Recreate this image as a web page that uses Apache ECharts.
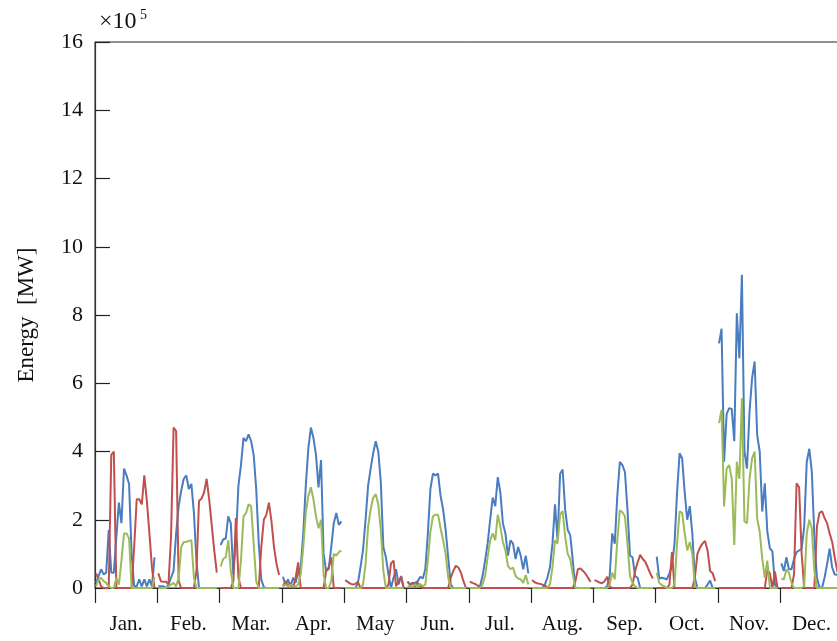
<!DOCTYPE html>
<html>
<head>
<meta charset="utf-8">
<script src="https://cdn.jsdelivr.net/npm/echarts@6/dist/echarts.min.js"></script>
<style>
html,body{margin:0;padding:0;background:#fff;overflow:hidden;width:837px;height:641px;}
#chart{width:846px;height:641px;}
</style>
</head>
<body>
<div id="chart"></div>
<script>
// Month labels
const months = ['Jan.','Feb.','Mar.','Apr.','May','Jun.','Jul.','Aug.','Sep.','Oct.','Nov.','Dec.'];
// y tick labels (x10^5)
const yTicks = [0,2,4,6,8,10,12,14,16];

// 24 hourly values per month (x10^5 MW)
const blueSeries = [
  [0.15,0.35,0.55,0.4,0.45,1.7,0.45,0.45,1.5,2.5,1.9,3.5,3.3,3.05,1.0,0.05,0.05,0.25,0.05,0.25,0.05,0.25,0.05,0.9],
  [0.05,0.05,0.05,0,0.1,0.3,0.5,1.6,2.4,2.85,3.2,3.3,2.9,3.05,2.2,0.8,0,0,0,0,0,0,0,0],
  [1.26,1.42,1.45,2.1,1.9,0.4,1.4,3.0,3.6,4.4,4.3,4.5,4.3,3.9,2.9,1.3,0.25,0.02,0,0,0,0,0,0],
  [0.33,0.1,0.25,0.05,0.3,0.15,0.48,0.6,1.6,3.0,4.1,4.7,4.4,3.9,2.95,3.75,1.0,0.5,0.55,1.2,1.9,2.2,1.85,1.95],
  [0,0,0,0,0,0.15,0.6,1.12,2.0,3.0,3.5,3.95,4.3,4.0,3.1,1.2,0.9,0.4,0,0.3,0.55,0.1,0.35,0],
  [0.19,0.1,0.15,0.15,0.2,0.33,0.28,0.55,1.6,2.9,3.35,3.3,3.35,2.7,2.3,1.7,0.9,0.1,0,0,0,0,0,0],
  [0,0,0,0,0.05,0.35,0.8,1.3,2.0,2.65,2.4,3.25,2.8,1.9,1.6,0.95,1.4,1.3,0.85,1.2,0.95,0.55,0.95,0.43],
  [0,0,0,0,0,0.1,0.3,0.6,1.3,2.45,1.4,3.35,3.47,2.3,1.7,1.55,0.8,0,0,0,0,0,0,0],
  [0,0,0,0,0,0.05,0.35,1.6,1.3,2.7,3.7,3.6,3.4,2.3,0.95,0.9,0.35,0.3,0,0,0,0,0,0],
  [0.92,0.28,0.3,0.28,0.25,0.43,0.65,1.3,2.8,3.95,3.8,2.8,2.0,2.4,1.6,0.3,0,0,0,0,0.1,0.22,0,0],
  [7.17,7.6,3.7,5.1,5.27,5.25,4.3,8.05,6.73,9.18,4.0,3.5,5.17,6.15,6.64,4.49,4.0,2.24,3.07,1.65,1.16,1.07,0.09,0],
  [0.72,0.5,0.9,0.55,0.55,0.85,1.05,1.1,1.15,1.8,3.7,4.08,3.4,1.5,0.3,0.02,0,0.3,0.7,1.15,0.6,0.4,0.38,0.3]
];
const greenSeries = [
  [0.05,0.25,0.3,0.2,0.15,0.05,0,0,0.3,0.1,0.8,1.6,1.6,1.45,0,0,0,0,0,0,0,0,0,0.33],
  [0,0,0,0,0.05,0.1,0.15,0.05,0.3,1.2,1.35,1.35,1.38,1.4,0.3,0,0,0,0,0,0,0,0,0],
  [0.63,0.85,0.9,1.4,0.5,0,0,0,0.8,2.1,2.2,2.45,2.4,1.3,0.2,0,0,0,0,0,0,0,0,0],
  [0.05,0.1,0.05,0.1,0.05,0.05,0.1,0.4,1.2,2.2,2.7,2.95,2.6,2.1,1.75,2.0,0.4,0,0,0.2,1.0,0.95,1.05,1.1],
  [0,0,0,0,0,0,0,0.1,0.7,1.8,2.3,2.65,2.75,2.45,1.7,0.5,0,0,0,0,0,0,0,0],
  [0.05,0.05,0.05,0.1,0.05,0.12,0.05,0.1,0.8,1.65,2.1,2.15,2.15,1.75,1.4,1.0,0.3,0,0,0,0,0,0,0],
  [0,0,0,0,0,0.1,0.35,0.9,1.4,1.6,1.4,2.15,1.8,1.35,1.1,0.65,0.55,0.6,0.35,0.28,0.25,0.15,0.38,0.1],
  [0,0,0,0,0,0,0,0.1,0.6,1.4,1.3,2.15,2.25,1.5,1.0,0.85,0.4,0,0,0,0,0,0,0],
  [0,0,0,0,0,0,0.1,0.45,0.25,1.4,2.28,2.22,2.1,1.3,0.35,0.15,0.05,0,0,0,0,0,0,0],
  [0.45,0.15,0.08,0.05,0,0,0,0.1,1.3,2.25,2.2,1.6,1.1,1.35,1.0,0.05,0,0,0,0,0,0,0,0],
  [4.83,5.22,2.39,3.5,3.6,3.2,1.26,3.7,3.2,5.56,1.95,1.9,3.2,3.8,4.0,2.04,1.65,0.87,0.3,0.8,0,0,0,0],
  [0.28,0.25,0.55,0.45,0.15,0,0,0,0,0.05,1.6,2.0,1.75,0.5,0,0,0,0,0,0,0,0,0,0]
];
const redSeries = [
  [0.43,0.25,0.05,0,0,0,3.9,4.0,0,0,0,0,0,0,0,1.2,2.6,2.6,2.45,3.3,2.55,1.6,0.6,0],
  [0.43,0.2,0.18,0.18,0.12,1.5,4.7,4.6,0.2,0,0,0,0,0,0,0.5,2.55,2.62,2.8,3.2,2.6,1.85,1.1,0.45],
  [0,0,0,0,0,0.2,2.05,0.3,0,0,0,0,0,0,0,0,1.2,2.0,2.15,2.5,1.95,1.2,0.7,0.38],
  [0.05,0.2,0.05,0.15,0,0.3,0.75,0,0,0,0,0,0,0,0,0,0,0.5,0.6,0.9,0,0,0,0],
  [0.23,0.18,0.13,0.1,0.12,0.18,0,0,0,0,0,0,0,0,0,0,0,0.1,0.72,0.8,0.05,0.2,0.33,0],
  [0.19,0.1,0.15,0.05,0.15,0.05,0,0,0,0,0,0,0,0,0,0,0,0.3,0.5,0.65,0.6,0.45,0.2,0],
  [0.19,0.15,0.12,0.08,0.04,0,0,0,0,0,0,0,0,0,0,0,0,0,0,0,0,0,0,0],
  [0.23,0.17,0.14,0.12,0.1,0.07,0.02,0,0,0,0,0,0,0,0,0,0,0.2,0.55,0.57,0.5,0.42,0.3,0.18],
  [0.23,0.2,0.16,0.14,0.2,0.33,0.05,0,0,0,0,0,0,0,0,0.1,0.5,0.75,0.97,0.85,0.77,0.6,0.42,0.28],
  [0,0,0,0,0,0.1,1.05,0,0,0,0,0,0,0,0,0.3,1.0,1.18,1.3,1.38,1.1,0.5,0.43,0.2],
  [0,0,0,0,0,0,0,0,0,0,0,0,0,0,0,0,0,0,0,0.53,0.43,0,0.48,0],
  [0,0,0,0,0,0.4,3.07,2.95,1.0,0,0,0,0,0,1.8,2.2,2.25,2.05,1.9,1.6,1.35,0.9,0.5,0.3]
];

function buildData(rows) {
  const out = [];
  rows.forEach((row, m) => {
    row.forEach((v, h) => out.push([m + (h + 0.4) / 24.5, v]));
    out.push([m + 0.995, '-']);
  });
  return out;
}

const serif = "'Liberation Serif', 'DejaVu Serif', serif";
const chart = echarts.init(document.getElementById('chart'), null, {renderer: 'canvas'});

function lineSeries(name, rows, color) {
  return {
    name: name, type: 'line', data: buildData(rows),
    xAxisIndex: 0, yAxisIndex: 0,
    showSymbol: false, symbol: 'none', connectNulls: false,
    lineStyle: {color: color, width: 2}, itemStyle: {color: color},
    animation: false
  };
}

chart.setOption({
  animation: false,
  grid: {left: 95, top: 42, width: 747.6, height: 546, show: true, borderColor: '#222', borderWidth: 1, backgroundColor: 'transparent'},
  xAxis: [
    {
      type: 'value', min: 0, max: 12, interval: 1,
      axisLine: {show: true, lineStyle: {color: '#333', width: 1}},
      axisTick: {show: true, inside: false, length: 15, lineStyle: {color: '#222', width: 1.2}},
      axisLabel: {show: false},
      splitLine: {show: false}
    },
    {
      type: 'category', data: months, position: 'bottom', boundaryGap: true,
      axisLine: {show: false}, axisTick: {show: false}, splitLine: {show: false},
      axisLabel: {show: true, interval: 0, margin: 26, color: '#111', fontFamily: serif, fontSize: 21}
    }
  ],
  yAxis: {
    type: 'value', min: 0, max: 16, interval: 2,
    name: 'Energy  [MW]', nameLocation: 'middle', nameGap: 57, nameRotate: 90,
    nameTextStyle: {fontFamily: serif, fontSize: 23, color: '#111'},
    axisLine: {show: true, lineStyle: {color: '#333', width: 1.2}},
    axisTick: {show: true, inside: true, length: 15, lineStyle: {color: '#222', width: 1.2}},
    axisLabel: {margin: 12, color: '#111', fontFamily: serif, fontSize: 22,
      formatter: v => yTicks.includes(v) ? String(v) : ''},
    splitLine: {show: false}
  },
  graphic: [
    {type: 'text', left: 99, top: 10, style: {text: '×10', font: '24px ' + serif, fill: '#111'}},
    {type: 'text', left: 140, top: 8, style: {text: '5', font: '14px ' + serif, fill: '#111'}}
  ],
  series: [
    lineSeries('Series A', blueSeries, '#4a7cc0'),
    lineSeries('Series C', redSeries, '#c0504d'),
    lineSeries('Series B', greenSeries, '#9bbb59')
  ]
});
</script>
</body>
</html>
